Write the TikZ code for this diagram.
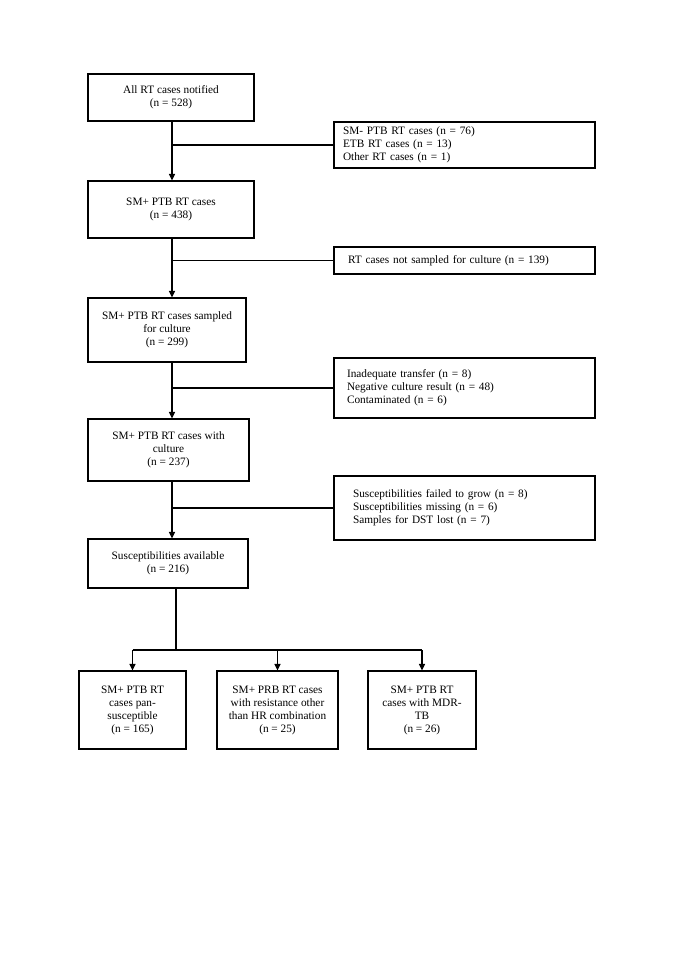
\documentclass[tikz,border=0pt]{standalone}
\usepackage{fontspec}
\setmainfont{Liberation Serif}
\usetikzlibrary{arrows.meta}
\begin{document}
\begin{tikzpicture}[x=1pt,y=-1pt,
  txt/.style={font=\fontsize{11.3}{13}\selectfont},
  box/.style={draw, line width=1.05pt, align=center, inner sep=0pt, txt},
  side/.style={draw, line width=1.05pt, align=left, inner ysep=0pt, minimum width=261pt, txt},
  conn/.style={line width=1.05pt},
  arr/.style={conn, -{Triangle[length=6.5pt,width=6pt]}}]
\useasboundingbox (0,0) rectangle (685,968);

% main column
\node[box, minimum width=166pt, minimum height=47pt] (b1) at (171,97.5) {All RT cases notified\\(n = 528)};
\node[box, minimum width=166pt, minimum height=57pt] (b2) at (171,209.5) {SM+ PTB RT cases\\(n = 438)};
\node[box, minimum width=158pt, minimum height=64pt] (b3) at (167,330) {SM+ PTB RT cases sampled\\for culture\\(n = 299)};
\node[box, minimum width=161pt, minimum height=62pt] (b4) at (168.5,450) {SM+ PTB RT cases with\\culture\\(n = 237)};
\node[box, minimum width=160pt, minimum height=49pt] (b5) at (168,563.5) {Susceptibilities available\\(n = 216)};

% side boxes
\node[side, inner xsep=9pt, text width=243pt, minimum height=46pt] (s1) at (464.5,145) {SM- PTB RT cases (n = 76)\\ETB RT cases (n = 13)\\Other RT cases (n = 1)};
\node[side, inner xsep=14pt, text width=233pt, minimum height=27pt] (s2) at (464.5,260.5) {RT cases not sampled for culture (n = 139)};
\node[side, inner xsep=13pt, text width=235pt, minimum height=60pt] (s3) at (464.5,388) {Inadequate transfer (n = 8)\\Negative culture result (n = 48)\\Contaminated (n = 6)};
\node[side, inner xsep=19pt, text width=223pt, minimum height=64pt] (s4) at (464.5,508) {Susceptibilities failed to grow (n = 8)\\Susceptibilities missing (n = 6)\\Samples for DST lost (n = 7)};

% bottom row
\node[box, minimum width=107pt, minimum height=78pt] (c1) at (132.5,710) {SM+ PTB RT\\cases pan-\\susceptible\\(n = 165)};
\node[box, minimum width=121pt, minimum height=78pt] (c2) at (277.5,710) {SM+ PRB RT cases\\with resistance other\\than HR combination\\(n = 25)};
\node[box, minimum width=108pt, minimum height=78pt] (c3) at (422,710) {SM+ PTB RT\\cases with MDR-\\TB\\(n = 26)};

% connectors
\coordinate (sp) at (172,0);
\draw[arr] (b1.south -| sp) -- (b2.north -| sp);
\draw[arr] (b2.south -| sp) -- (b3.north -| sp);
\draw[arr] (b3.south -| sp) -- (b4.north -| sp);
\draw[arr] (b4.south -| sp) -- (b5.north -| sp);
\draw[conn] (s1.west -| sp) -- (s1.west);
\draw[conn] (s2.west -| sp) -- (s2.west);
\draw[conn] (s3.west -| sp) -- (s3.west);
\draw[conn] (s4.west -| sp) -- (s4.west);

\coordinate (sp2) at (176,0);
\coordinate (hb) at (0,650);
\draw[conn] (b5.south -| sp2) -- (hb -| sp2);
\draw[conn] (hb -| c1.north) -- (hb -| c3.north);
\draw[arr] (hb -| c1.north) -- (c1.north);
\draw[arr] (hb -| c2.north) -- (c2.north);
\draw[arr] (hb -| c3.north) -- (c3.north);
\end{tikzpicture}
\end{document}
